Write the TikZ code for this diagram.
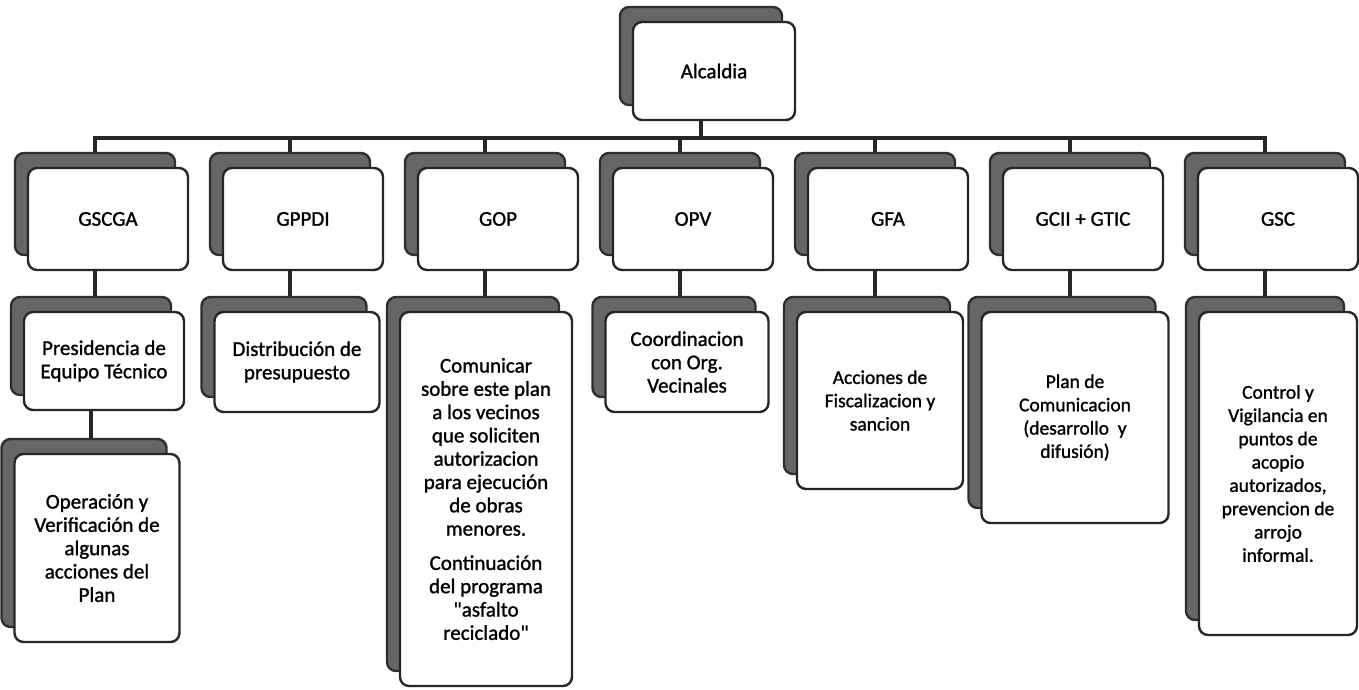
\documentclass[tikz,border=0pt]{standalone}
\usepackage{fontspec}
\setmainfont{Carlito}
\newfontfamily\chartfont{Carlito}[FakeBold=1.2]
\usetikzlibrary{shadows,backgrounds}

\begin{document}
\begin{tikzpicture}[x=1pt,y=1pt,
    orgbox/.style={draw=black!85, line width=2.4pt, fill=white, rounded corners=9pt,
      align=center, inner sep=2pt,
      copy shadow={shadow xshift=-13pt, shadow yshift=15pt, fill=black!60, draw=black!82}},
    headbox/.style={orgbox, minimum width=160pt, minimum height=102pt,
      font=\chartfont\fontsize{21}{23.3}\selectfont},
    taskbox/.style={orgbox, font=\chartfont\fontsize{21}{23.3}\selectfont},
    tasksm/.style={orgbox, font=\chartfont\fontsize{19.5}{23.3}\selectfont},
    conn/.style={draw=black!85, line width=3.4pt}]
    \useasboundingbox (0,0) rectangle (1359,-689);
    % top
    \node[headbox, minimum width=162pt, minimum height=98pt] (alcaldia) at (714,-71) {Alcaldia};
    \coordinate (bus) at (0,-138);
    % first row
    \node[headbox] (gscga) at (108,-219) {GSCGA};
    \node[headbox] (gppdi) at (303,-219) {GPPDI};
    \node[headbox] (gop) at (498,-219) {GOP};
    \node[headbox] (opv) at (693,-219) {OPV};
    \node[headbox] (gfa) at (888,-219) {GFA};
    \node[headbox] (gcii) at (1083,-219) {GCII + GTIC};
    \node[headbox] (gsc) at (1278,-219) {GSC};
    % second row
    \node[taskbox, minimum width=160pt, minimum height=98pt] (pres) at (104,-361)
      {Presidencia de\\Equipo Técnico};
    \node[taskbox, minimum width=165pt, minimum height=188pt] (oper) at (97,-548)
      {Operación y\\Verificación de\\algunas\\acciones del\\Plan};
    \node[taskbox, minimum width=165pt, minimum height=100pt] (dist) at (297,-362)
      {Distribución de\\presupuesto};
    \node[taskbox, minimum width=172pt, minimum height=374pt] (comu) at (486,-499)
      {Comunicar\\sobre este plan\\a los vecinos\\que soliciten\\autorizacion\\para ejecución\\de obras\\menores.\\[11pt]Continuación\\del programa\\\char34 asfalto\\reciclado\char34};
    \node[taskbox, minimum width=163pt, minimum height=100pt] (coord) at (687,-362)
      {Coordinacion\\con Org.\\Vecinales};
    \node[tasksm, minimum width=166pt, minimum height=177pt] (acc) at (880,-400.5)
      {Acciones de\\Fiscalizacion y\\sancion};
    \node[tasksm, minimum width=187pt, minimum height=211pt] (plan) at (1075,-417.5)
      {Plan de\\Comunicacion\\(desarrollo\ \ y\\difusión)};
    \node[tasksm, minimum width=158pt, minimum height=323pt] (ctrl) at (1278,-473.5)
      {Control y\\Vigilancia en\\puntos de\\acopio\\autorizados,\\prevencion de\\arrojo\\informal.};
    % lines behind the boxes
    \begin{scope}[on background layer]
    \fill[white] (0,0) rectangle (1359,-689);
    \draw[conn] ([xshift=-13pt]alcaldia.south) -- ([xshift=-13pt]alcaldia.south |- bus);
    \draw[conn] ([xshift=-13pt]gscga.north) -- ([xshift=-13pt]gscga.north |- bus)
      -- ([xshift=-13pt]gsc.north |- bus) -- ([xshift=-13pt]gsc.north);
    \foreach \n in {gppdi,gop,opv,gfa,gcii}
      \draw[conn] ([xshift=-13pt]\n.north |- bus) -- ([xshift=-13pt]\n.north);
    \foreach \a/\b in {gscga/pres,pres/oper,gppdi/dist,gop/comu,opv/coord,gfa/acc,gcii/plan,gsc/ctrl}
      \draw[conn] ([xshift=-13pt]\a.south) -- ([xshift=-13pt]\a.south |- \b.north);
    \end{scope}
\end{tikzpicture}
\end{document}
